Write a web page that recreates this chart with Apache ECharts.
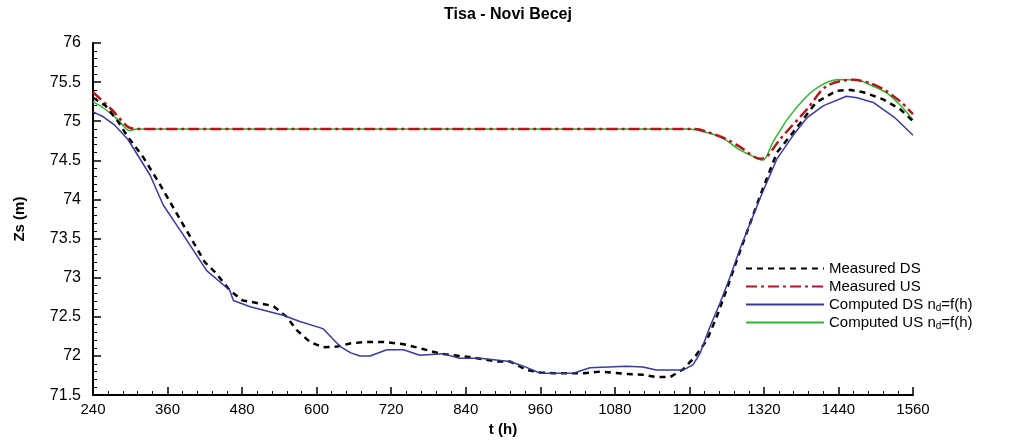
<!DOCTYPE html>
<html>
<head>
<meta charset="utf-8">
<script src="https://cdn.jsdelivr.net/npm/echarts@6/dist/echarts.min.js"></script>
<style>html,body{margin:0;padding:0;background:#fff}#c{width:1016px;height:442px}</style>
</head>
<body>
<div id="c"></div>
<script>
// ---- data ----
var xTicks = [240, 360, 480, 600, 720, 840, 960, 1080, 1200, 1320, 1440, 1560];
var yTicks = [71.5, 72, 72.5, 73, 73.5, 74, 74.5, 75, 75.5, 76];

var measDS_t = [240, 260, 280, 296, 320, 345, 385, 420, 439, 460, 481, 530, 552, 568, 589, 610, 633, 654, 680, 707, 740, 771, 799, 842, 890, 911, 938, 960, 981, 1030, 1056, 1099, 1125, 1147, 1169, 1190, 1209, 1228, 1244, 1260, 1282, 1314, 1341, 1367, 1404, 1437, 1460, 1480, 1512, 1540, 1560];
var measDS_z = [75.3, 75.2, 75.0, 74.8, 74.55, 74.23, 73.68, 73.2, 73.05, 72.84, 72.71, 72.64, 72.5, 72.33, 72.18, 72.11, 72.12, 72.16, 72.18, 72.18, 72.15, 72.09, 72.03, 71.99, 71.93, 71.93, 71.82, 71.79, 71.78, 71.78, 71.8, 71.77, 71.76, 71.73, 71.73, 71.83, 71.99, 72.2, 72.5, 72.85, 73.35, 74.05, 74.6, 74.86, 75.24, 75.39, 75.4, 75.37, 75.28, 75.15, 75.0];

var measUS_t = [240, 270, 296, 310, 600, 900, 1210, 1230, 1260, 1282, 1314, 1325, 1346, 1389, 1421, 1463, 1490, 1512, 1540, 1560];
var measUS_z = [75.37, 75.15, 74.93, 74.9, 74.9, 74.9, 74.9, 74.86, 74.77, 74.67, 74.52, 74.55, 74.77, 75.15, 75.45, 75.53, 75.49, 75.41, 75.25, 75.09];

var compDS_t = [240, 256, 275, 296, 332, 353, 385, 423, 460, 466, 493, 546, 573, 610, 627, 638, 655, 670, 686, 713, 740, 766, 803, 830, 863, 911, 933, 960, 1013, 1040, 1099, 1125, 1147, 1190, 1206, 1217, 1233, 1249, 1265, 1282, 1314, 1341, 1367, 1390, 1416, 1453, 1470, 1496, 1530, 1560];
var compDS_z = [75.12, 75.06, 74.95, 74.77, 74.31, 73.93, 73.55, 73.09, 72.84, 72.71, 72.63, 72.52, 72.44, 72.35, 72.21, 72.12, 72.04, 72.0, 72.0, 72.08, 72.08, 72.01, 72.03, 71.97, 71.97, 71.93, 71.87, 71.78, 71.78, 71.85, 71.87, 71.86, 71.82, 71.82, 71.89, 72.03, 72.37, 72.67, 73.0, 73.38, 74.02, 74.52, 74.82, 75.05, 75.2, 75.32, 75.3, 75.24, 75.05, 74.82];

var compUS_t = [240, 260, 280, 299, 310, 600, 900, 1200, 1220, 1250, 1282, 1300, 1318, 1335, 1360, 1389, 1410, 1437, 1469, 1490, 1518, 1540, 1560];
var compUS_z = [75.25, 75.15, 75.02, 74.88, 74.9, 74.9, 74.9, 74.9, 74.87, 74.8, 74.63, 74.56, 74.5, 74.74, 75.05, 75.32, 75.45, 75.53, 75.53, 75.47, 75.36, 75.2, 75.02];

var seriesNames = ['Measured DS', 'Measured US', 'Computed DS n_d=f(h)', 'Computed US n_d=f(h)'];

function pairs(t, z) { return t.map(function (v, i) { return [v, z[i]]; }); }

var FONT = '"Liberation Sans", Arial, sans-serif';

var chart = echarts.init(document.getElementById('c'), null, { renderer: 'canvas' });
chart.setOption({
  backgroundColor: '#ffffff',
  animation: false,
  title: {
    text: 'Tisa - Novi Becej',
    left: 503, textAlign: 'center', top: 2,
    textStyle: { fontFamily: FONT, fontSize: 16, fontWeight: 'bold', color: '#000' }
  },
  grid: { left: 93, right: 103, top: 43, bottom: 43, containLabel: false },
  legend: {
    orient: 'vertical',
    left: 740, top: 255,
    itemWidth: 78, itemHeight: 12, itemGap: 1,
    data: seriesNames,
    itemStyle: { opacity: 0 },
    formatter: function (name) {
      var m = name.match(/^(.*) n_d=f\(h\)$/);
      if (m) return '{a|' + m[1] + ' n}{s|d}{a|=f(h)}';
      return '{a|' + name + '}';
    },
    textStyle: {
      fontFamily: FONT, fontSize: 15, color: '#000', lineHeight: 17,
      rich: {
        a: { fontFamily: FONT, fontSize: 15, color: '#000', lineHeight: 17 },
        s: { fontFamily: FONT, fontSize: 10, color: '#000', lineHeight: 17, padding: [7, 0, 0, 0] }
      }
    }
  },
  xAxis: {
    type: 'value', min: 240, max: 1560, interval: 120,
    name: 't (h)', nameLocation: 'middle', nameGap: 24,
    nameTextStyle: { fontFamily: FONT, fontSize: 15, fontWeight: 'bold', color: '#000' },
    axisLine: { show: true, onZero: false, lineStyle: { color: '#000', width: 2 } },
    axisTick: { show: true, inside: true, length: 8, lineStyle: { color: '#000', width: 1.5 } },
    minorTick: { show: true, splitNumber: 5, length: 4, lineStyle: { color: '#000', width: 1 } },
    splitLine: { show: false },
    axisLabel: { fontFamily: FONT, fontSize: 15, color: '#000', margin: 7,
      formatter: function (v) { return xTicks.indexOf(v) >= 0 ? String(v) : ''; } }
  },
  yAxis: {
    type: 'value', min: 71.5, max: 76, interval: 0.5,
    name: 'Zs (m)', nameLocation: 'middle', nameGap: 66, nameRotate: 90,
    nameTextStyle: { fontFamily: FONT, fontSize: 15, fontWeight: 'bold', color: '#000' },
    axisLine: { show: true, onZero: false, lineStyle: { color: '#000', width: 2 } },
    axisTick: { show: true, inside: true, length: 8, lineStyle: { color: '#000', width: 1.5 } },
    minorTick: { show: true, splitNumber: 5, length: 4, lineStyle: { color: '#000', width: 1 } },
    splitLine: { show: false },
    axisLabel: { fontFamily: FONT, fontSize: 16, color: '#000', margin: 12,
      formatter: function (v) { return yTicks.indexOf(v) >= 0 ? String(v) : ''; } }
  },
  series: [
    { name: seriesNames[0], type: 'line', showSymbol: false, symbol: 'none', symbolSize: 0, z: 4,
      data: pairs(measDS_t, measDS_z),
      lineStyle: { color: '#000000', width: 2.5, type: [6, 5] }, itemStyle: { color: '#000000' } },
    { name: seriesNames[1], type: 'line', showSymbol: false, symbol: 'none', symbolSize: 0, z: 3, smooth: 0.3,
      data: pairs(measUS_t, measUS_z),
      lineStyle: { color: '#b01820', width: 2.5, type: [11, 4, 3, 4] }, itemStyle: { color: '#b01820' } },
    { name: seriesNames[2], type: 'line', showSymbol: false, symbol: 'none', symbolSize: 0, z: 5,
      data: pairs(compDS_t, compDS_z),
      lineStyle: { color: '#3a3a9c', width: 1.5 }, itemStyle: { color: '#3a3a9c' } },
    { name: seriesNames[3], type: 'line', showSymbol: false, symbol: 'none', symbolSize: 0, z: 2, smooth: 0.3,
      data: pairs(compUS_t, compUS_z),
      lineStyle: { color: '#2fb52f', width: 1.5 }, itemStyle: { color: '#2fb52f' } }
  ]
});
</script>
</body>
</html>
